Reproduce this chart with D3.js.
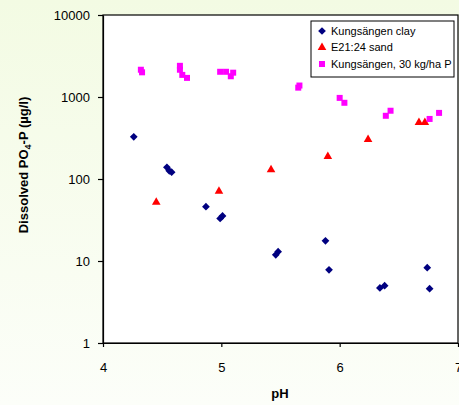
<!DOCTYPE html>
<html>
<head>
<meta charset="utf-8">
<script src="https://cdn.jsdelivr.net/npm/d3@7"></script>
<style>
  html, body { margin: 0; padding: 0; }
  svg { display: block; font-family: Arial, "Liberation Sans", sans-serif; }
</style>
</head>
<body>
<svg id="chart" width="459" height="405"></svg>
<script>
// Dissolved phosphate versus pH for three soils
const clayPH = [4.26, 4.54, 4.56, 4.58, 4.87, 4.99, 5.01, 5.46, 5.48, 5.88, 5.91, 6.34, 6.38, 6.74, 6.76];
const clayP  = [327, 139, 126, 121, 46, 33, 35.5, 11.9, 13, 17.6, 7.8, 4.7, 5.0, 8.3, 4.6];

const sandPH = [4.45, 4.98, 5.42, 5.90, 6.24, 6.67, 6.72];
const sandP  = [52, 71, 130, 188, 304, 490, 490];

const fertPH = [4.32, 4.33, 4.65, 4.65, 4.67, 4.71, 4.99, 5.04, 5.10, 5.08, 5.65, 5.66, 6.00, 6.04, 6.39, 6.43, 6.76, 6.84];
const fertP  = [2150, 2000, 2400, 2150, 1860, 1710, 2030, 2030, 1980, 1790, 1300, 1380, 975, 850, 590, 680, 540, 640];

const xTicks = [4, 5, 6, 7];
const yTicks = [1, 10, 100, 1000, 10000];

const seriesNames = ["Kungsängen clay", "E21:24 sand", "Kungsängen, 30 kg/ha P"];

const svg = d3.select("#chart");
const W = 459, H = 405;
const plot = { left: 103, right: 458, top: 15, bottom: 343 };

// page background
const defs = svg.append("defs");
const grad = defs.append("linearGradient").attr("id", "bg").attr("x1", 0).attr("y1", 0).attr("x2", 0).attr("y2", 1);
grad.append("stop").attr("offset", "0%").attr("stop-color", "#f3fbe3");
grad.append("stop").attr("offset", "100%").attr("stop-color", "#fcfef9");
svg.append("rect").attr("width", W).attr("height", H).attr("fill", "url(#bg)");

const x = d3.scaleLinear().domain([4, 7]).range([plot.left, plot.right]);
const y = d3.scaleLog().domain([1, 10000]).range([plot.bottom, plot.top]);

// plot area
svg.append("rect")
  .attr("x", plot.left).attr("y", plot.top)
  .attr("width", plot.right - plot.left).attr("height", plot.bottom - plot.top)
  .attr("fill", "#ffffff").attr("stroke", "#000").attr("stroke-width", 1.2);

// axes
const xAxis = svg.append("g")
  .attr("transform", `translate(0,${plot.bottom})`)
  .call(d3.axisBottom(x).tickValues(xTicks).tickFormat(d3.format("d")).tickSize(4).tickSizeOuter(0));
const yAxis = svg.append("g")
  .attr("transform", `translate(${plot.left},0)`)
  .call(d3.axisLeft(y).tickValues(yTicks).tickFormat(d3.format("d")).tickSize(5).tickSizeOuter(0));

[xAxis, yAxis].forEach(g => {
  g.select(".domain").attr("stroke", "#000").attr("stroke-width", 1.2);
  g.selectAll(".tick line").attr("stroke", "#000").attr("stroke-width", 1.2);
  g.selectAll(".tick text").attr("fill", "#000").attr("font-size", 13)
    .attr("font-family", 'Arial, "Liberation Sans", sans-serif');
});
xAxis.selectAll(".tick text").attr("dy", null).attr("y", 29);
yAxis.selectAll(".tick text").attr("x", -13).attr("dy", "0.35em");

// axis titles
svg.append("text")
  .attr("x", 280).attr("y", 398)
  .attr("text-anchor", "middle").attr("font-size", 13).attr("font-weight", "bold")
  .text("pH");

const yTitle = svg.append("text")
  .attr("transform", "translate(28,165) rotate(-90)")
  .attr("text-anchor", "middle").attr("font-size", 13).attr("font-weight", "bold");
yTitle.append("tspan").text("Dissolved PO");
yTitle.append("tspan").attr("font-size", 9).attr("dy", 3).text("4");
yTitle.append("tspan").attr("dy", -3).text("-P (\u00b5g/l)");

// marker shapes
const diamond = d3.symbol().type(d3.symbolSquare).size(30);
const triangle = d3.symbol().type(d3.symbolTriangle).size(32);
const square = d3.symbol().type(d3.symbolSquare).size(36);

const marks = svg.append("g");
marks.selectAll(".clay").data(d3.zip(clayPH, clayP)).join("path")
  .attr("class", "clay")
  .attr("d", diamond)
  .attr("transform", d => `translate(${x(d[0])},${y(d[1])}) rotate(45)`)
  .attr("fill", "#000080");
marks.selectAll(".sand").data(d3.zip(sandPH, sandP)).join("path")
  .attr("class", "sand")
  .attr("d", triangle)
  .attr("transform", d => `translate(${x(d[0])},${y(d[1])})`)
  .attr("fill", "#ff0000");
marks.selectAll(".fert").data(d3.zip(fertPH, fertP)).join("path")
  .attr("class", "fert")
  .attr("d", square)
  .attr("transform", d => `translate(${x(d[0])},${y(d[1])})`)
  .attr("fill", "#ff00ff");

// legend
const legend = svg.append("g");
legend.append("rect")
  .attr("x", 311).attr("y", 21).attr("width", 143).attr("height", 56)
  .attr("fill", "#fff").attr("stroke", "#000").attr("stroke-width", 1);
const legendRows = [
  { name: seriesNames[0], shape: diamond, color: "#000080", rot: 45 },
  { name: seriesNames[1], shape: triangle, color: "#ff0000", rot: 0 },
  { name: seriesNames[2], shape: square, color: "#ff00ff", rot: 0 }
];
const rowY = d3.scalePoint().domain(seriesNames).range([31, 64]);
legendRows.forEach(r => {
  legend.append("path").attr("d", r.shape)
    .attr("transform", `translate(322,${rowY(r.name)}) rotate(${r.rot})`)
    .attr("fill", r.color);
  legend.append("text").attr("x", 331).attr("y", rowY(r.name)).attr("dy", "0.35em")
    .attr("font-size", 11).text(r.name);
});
</script>
</body>
</html>
